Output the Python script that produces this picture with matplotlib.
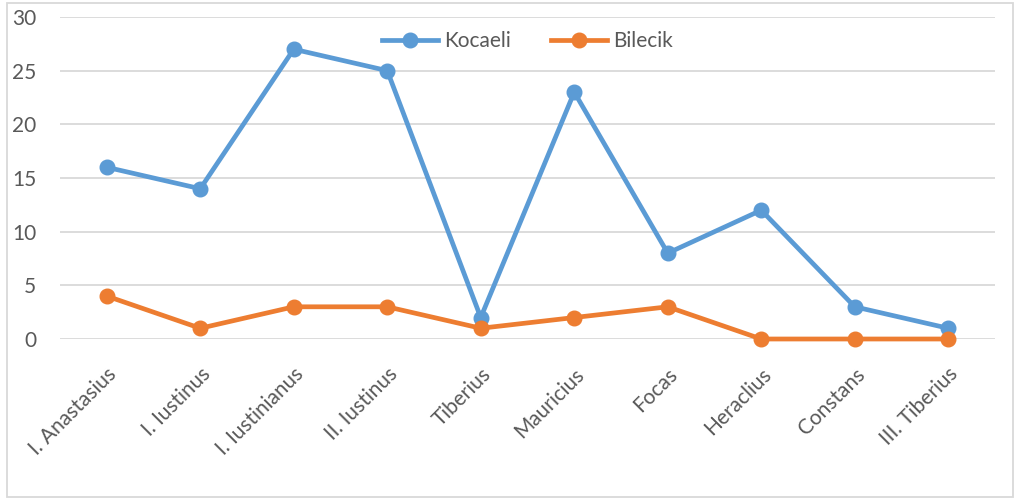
import matplotlib.pyplot as plt
from matplotlib.patches import Rectangle

# emperors (x axis) and counts per province
emperors = ["I. Anastasius", "I. Iustinus", "I. Iustinianus", "II. Iustinus", "Tiberius",
            "Mauricius", "Focas", "Heraclius", "Constans", "III. Tiberius"]
kocaeli = [16, 14, 27, 25, 2, 23, 8, 12, 3, 1]
bilecik = [4, 1, 3, 3, 1, 2, 3, 0, 0, 0]

plt.rcParams["font.family"] = ["Lato", "DejaVu Sans"]
text_color = "#595959"
grid_color = "#D9D9D9"

fig = plt.figure(figsize=(10.2, 5), dpi=100)
ax = fig.add_axes([60 / 1020, 1 - 339 / 500, 935 / 1020, 322 / 500])

x = range(len(emperors))
ax.plot(x, kocaeli, color="#5B9BD5", lw=3.4, marker="o", ms=10.5, label="Kocaeli",
        zorder=3, clip_on=False)
ax.plot(x, bilecik, color="#ED7D31", lw=3.4, marker="o", ms=10.5, label="Bilecik",
        zorder=3, clip_on=False)

ax.set_xlim(-0.5, len(emperors) - 0.5)
ax.set_ylim(0, 30)
ax.set_yticks(range(0, 31, 5))
ax.yaxis.grid(True, color=grid_color, lw=1.3)
ax.set_axisbelow(True)
for s in ax.spines.values():
    s.set_visible(False)
ax.tick_params(length=0, colors=text_color, labelsize=15)
ax.tick_params(axis="y", pad=17)
ax.set_xticks(list(x))
ax.set_xticklabels(emperors, rotation=45, ha="right", va="top", rotation_mode="anchor")
ax.tick_params(axis="x", pad=18)

leg = ax.legend(loc="upper center", bbox_to_anchor=(0.5, 1.015), ncol=2, frameon=False,
                fontsize=15, handlelength=2.7, columnspacing=1.9, handletextpad=0.3)
for t in leg.get_texts():
    t.set_color(text_color)

fig.patches.append(Rectangle((7 / 1020, 3 / 500), 1006 / 1020, 494 / 500, transform=fig.transFigure,
                             fill=False, edgecolor=grid_color, lw=1.3))

fig.savefig("out.png", dpi=100)
